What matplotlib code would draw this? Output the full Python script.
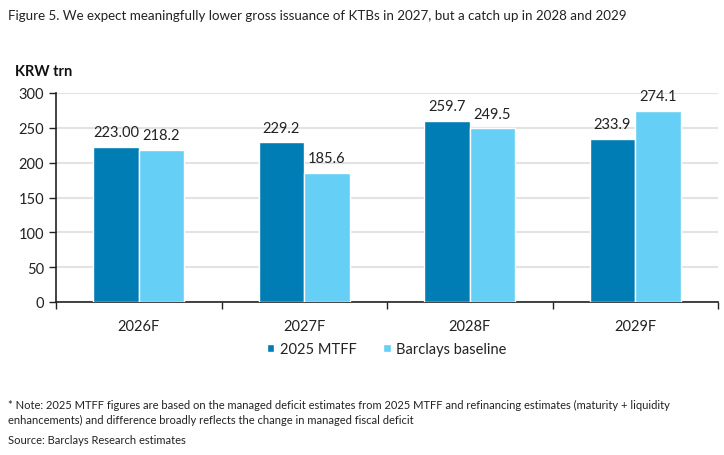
import numpy as np
import matplotlib.pyplot as plt
from matplotlib.ticker import FixedLocator

plt.rcParams['font.family'] = ['Lato', 'DejaVu Sans']

years = ["2026F", "2027F", "2028F", "2029F"]
mtff = [223.00, 229.2, 259.7, 233.9]
barclays = [218.2, 185.6, 249.5, 274.1]
mtff_labels = ["223.00", "229.2", "259.7", "233.9"]
barclays_labels = ["218.2", "185.6", "249.5", "274.1"]

dark = "#007db5"
light = "#66cff5"
text_col = "#222222"

fig = plt.figure(figsize=(7.24, 4.56), dpi=100)
ax = fig.add_axes([56/724, 1-303/456, (718-56)/724, (303-94)/456])

x = np.arange(len(years))
w = 0.275
b1 = ax.bar(x - w/2, mtff, w, color=dark, edgecolor="white", linewidth=1, label="2025 MTFF", zorder=3)
b2 = ax.bar(x + w/2, barclays, w, color=light, edgecolor="white", linewidth=1, label="Barclays baseline", zorder=3)

for rect, lab in zip(b1, mtff_labels):
    ax.text(rect.get_x() + rect.get_width()/2, rect.get_height() + 11, lab,
            ha="center", va="bottom", fontsize=10.5, color=text_col)
for rect, lab in zip(b2, barclays_labels):
    ax.text(rect.get_x() + rect.get_width()/2, rect.get_height() + 11, lab,
            ha="center", va="bottom", fontsize=10.5, color=text_col)

ax.set_xlim(-0.5, 3.5)
ax.set_ylim(0, 300)
ax.set_yticks(range(0, 301, 50))
ax.set_xticks(x)
ax.set_xticklabels(years)
ax.xaxis.set_minor_locator(FixedLocator([-0.5, 0.5, 1.5, 2.5, 3.5]))
ax.tick_params(axis="x", which="major", length=0, pad=12, labelsize=10.5, labelcolor=text_col)
ax.tick_params(axis="x", which="minor", length=5, width=1, direction="out", color="#222222")
ax.tick_params(axis="y", length=5, width=1, direction="out", labelsize=10.5, labelcolor=text_col, color="#222222")

ax.grid(axis="y", color="#e3e3e3", linewidth=1.5, zorder=0)
for s in ["top", "right"]:
    ax.spines[s].set_visible(False)
ax.spines["left"].set_color("#222222")
ax.spines["bottom"].set_color("#222222")
ax.spines["left"].set_linewidth(1.2)
ax.spines["bottom"].set_linewidth(1.2)

ax.legend(loc="upper center", bbox_to_anchor=(0.5, -0.13), ncol=2, frameon=False,
          fontsize=10.5, handlelength=0.5, handleheight=0.5, handletextpad=0.4,
          columnspacing=1.8, labelcolor=text_col)

fig.text(8/724, 1-16/456, "Figure 5. We expect meaningfully lower gross issuance of KTBs in 2027, but a catch up in 2028 and 2029",
         fontsize=9.6, va="center", ha="left", color=text_col)
fig.text(15/724, 1-72/456, "KRW trn", fontsize=10.5, fontweight="bold", va="center", ha="left", color="#111111")
fig.text(8/724, 1-413/456,
         "* Note: 2025 MTFF figures are based on the managed deficit estimates from 2025 MTFF and refinancing estimates (maturity + liquidity\nenhancements) and difference broadly reflects the change in managed fiscal deficit",
         fontsize=8, va="center", ha="left", color=text_col, linespacing=1.4)
fig.text(8/724, 1-441/456, "Source: Barclays Research estimates", fontsize=8, va="center", ha="left", color=text_col)

fig.savefig("out.png", dpi=100)
